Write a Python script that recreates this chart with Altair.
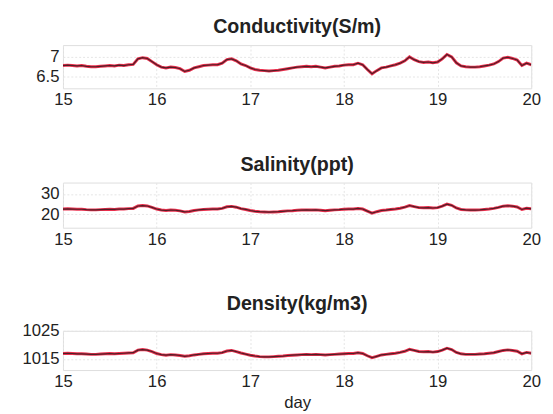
import altair as alt
import pandas as pd

days = [15.00, 15.05, 15.10, 15.15, 15.20, 15.25, 15.30, 15.35, 15.40, 15.45,
        15.50, 15.55, 15.60, 15.65, 15.70, 15.75, 15.80, 15.85, 15.90, 15.95,
        16.00, 16.05, 16.10, 16.15, 16.20, 16.25, 16.30, 16.35, 16.40, 16.45,
        16.50, 16.55, 16.60, 16.65, 16.70, 16.75, 16.80, 16.85, 16.90, 16.95,
        17.00, 17.05, 17.10, 17.15, 17.20, 17.25, 17.30, 17.35, 17.40, 17.45,
        17.50, 17.55, 17.60, 17.65, 17.70, 17.75, 17.80, 17.85, 17.90, 17.95,
        18.00, 18.05, 18.10, 18.15, 18.20, 18.25, 18.30, 18.35, 18.40, 18.45,
        18.50, 18.55, 18.60, 18.65, 18.70, 18.75, 18.80, 18.85, 18.90, 18.95,
        19.00, 19.05, 19.10, 19.15, 19.20, 19.25, 19.30, 19.35, 19.40, 19.45,
        19.50, 19.55, 19.60, 19.65, 19.70, 19.75, 19.80, 19.85, 19.90, 19.95,
        20.00]

conductivity = [6.78, 6.79, 6.78, 6.77, 6.78, 6.76, 6.75, 6.75, 6.76, 6.77,
                6.78, 6.77, 6.79, 6.78, 6.80, 6.81, 6.95, 6.98, 6.96, 6.88,
                6.80, 6.74, 6.72, 6.74, 6.73, 6.70, 6.63, 6.66, 6.72, 6.75,
                6.78, 6.79, 6.80, 6.80, 6.84, 6.93, 6.95, 6.90, 6.82, 6.78,
                6.72, 6.68, 6.66, 6.65, 6.64, 6.65, 6.66, 6.68, 6.70, 6.72,
                6.74, 6.75, 6.76, 6.75, 6.76, 6.74, 6.72, 6.74, 6.76, 6.77,
                6.79, 6.80, 6.80, 6.84, 6.80, 6.68, 6.57, 6.65, 6.72, 6.74,
                6.77, 6.80, 6.84, 6.90, 7.00, 6.93, 6.88, 6.86, 6.87, 6.85,
                6.87, 6.95, 7.06, 7.00, 6.85, 6.77, 6.75, 6.74, 6.74, 6.75,
                6.77, 6.79, 6.82, 6.88, 6.97, 6.99, 6.96, 6.92, 6.78, 6.84,
                6.80]

salinity = [22.6, 22.7, 22.6, 22.5, 22.5, 22.3, 22.2, 22.2, 22.3, 22.4,
            22.5, 22.4, 22.6, 22.6, 22.8, 22.9, 24.1, 24.3, 24.1, 23.4,
            22.6, 22.1, 21.9, 22.1, 22.0, 21.7, 21.2, 21.4, 21.9, 22.2,
            22.4, 22.5, 22.6, 22.6, 22.9, 23.7, 23.9, 23.5, 22.8, 22.4,
            21.9, 21.5, 21.3, 21.2, 21.1, 21.2, 21.3, 21.5, 21.7, 21.8,
            22.0, 22.1, 22.2, 22.1, 22.2, 22.0, 21.8, 22.0, 22.2, 22.3,
            22.5, 22.6, 22.6, 22.9, 22.6, 21.6, 20.6, 21.3, 21.9, 22.1,
            22.4, 22.6, 23.0, 23.5, 24.3, 23.8, 23.3, 23.2, 23.3, 23.1,
            23.3, 24.0, 25.0, 24.4, 23.1, 22.4, 22.2, 22.1, 22.1, 22.2,
            22.4, 22.6, 22.9, 23.4, 24.0, 24.2, 24.0, 23.6, 22.4, 23.0,
            22.7]

density = [1016.9, 1017.0, 1016.9, 1016.8, 1016.8, 1016.7, 1016.6, 1016.6, 1016.7, 1016.8,
           1016.9, 1016.8, 1016.9, 1017.0, 1017.1, 1017.2, 1018.1, 1018.3, 1018.1, 1017.6,
           1016.9, 1016.5, 1016.3, 1016.5, 1016.4, 1016.2, 1015.9, 1016.1, 1016.4, 1016.6,
           1016.8, 1016.9, 1017.0, 1017.0, 1017.2, 1017.8, 1018.0, 1017.6, 1017.1, 1016.7,
           1016.3, 1016.0, 1015.8, 1015.7, 1015.7, 1015.8, 1015.9, 1016.0, 1016.2, 1016.3,
           1016.4, 1016.5, 1016.6, 1016.5, 1016.6, 1016.5, 1016.4, 1016.5, 1016.6, 1016.7,
           1016.8, 1016.9, 1016.9, 1017.2, 1016.9, 1016.1, 1015.4, 1015.9, 1016.4, 1016.6,
           1016.8, 1017.0, 1017.3, 1017.7, 1018.4, 1018.0, 1017.6, 1017.5, 1017.6, 1017.4,
           1017.6, 1018.1, 1018.8, 1018.3, 1017.3, 1016.8, 1016.6, 1016.6, 1016.6, 1016.7,
           1016.8, 1017.0, 1017.2, 1017.6, 1018.0, 1018.2, 1018.0, 1017.7, 1016.8, 1017.3,
           1017.0]

x_ticks = [15, 16, 17, 18, 19, 20]

panels = [
    ("Conductivity(S/m)", conductivity, [6.2, 7.3], [6.5, 7], 44, None),
    ("Salinity(ppt)", salinity, [13.5, 35.5], [20, 30], 46, None),
    ("Density(kg/m3)", density, [1011, 1025], [1015, 1025], 40, "day"),
]

FONT = "Liberation Sans"


def make_panel(title, values, ydom, yticks, h, xtitle):
    df = pd.DataFrame({"day": days, "v": values})
    xkw = dict(values=x_ticks, format="d", labelFlush=False, tickSize=0, labelPadding=4,
               labelFontSize=17, labelColor="#222", grid=True, gridColor="#e4e4e4",
               gridDash=[2, 2], domain=False, labelFont=FONT)
    if xtitle:
        xenc = alt.X("day:Q", scale=alt.Scale(domain=[15, 20], nice=False),
                     axis=alt.Axis(title=xtitle, titleFontSize=17, titleFontWeight="normal",
                                   titleColor="#222", titleFont=FONT, titlePadding=5, **xkw))
    else:
        xenc = alt.X("day:Q", scale=alt.Scale(domain=[15, 20], nice=False),
                     axis=alt.Axis(title=None, **xkw))
    yenc = alt.Y("v:Q", scale=alt.Scale(domain=ydom, nice=False, zero=False),
                 axis=alt.Axis(title=None, values=yticks, labelExpr="'' + datum.value",
                               tickSize=0, labelPadding=4,
                               labelFontSize=17, labelColor="#222", labelFont=FONT,
                               grid=True, gridColor="#e4e4e4", gridDash=[2, 2],
                               domain=False))
    base = alt.Chart(df)
    red = base.mark_line(color="#e8183a", strokeWidth=3.0, opacity=0.9, clip=True).encode(x=xenc, y=yenc)
    black = base.mark_line(color="#1a1a1a", strokeWidth=1.2, opacity=0.75, clip=True).encode(x="day:Q", y="v:Q")
    return alt.layer(red, black).properties(
        width=477, height=h,
        title=alt.TitleParams(title, fontSize=20, fontWeight="bold", font=FONT,
                              color="#222", offset=8, anchor="middle"),
    )


charts = [make_panel(*p) for p in panels]

chart = alt.vconcat(*charts, spacing=46).properties(
    padding={"left": 13, "top": 5, "right": 4, "bottom": 2}
).configure_view(stroke="#9a9a9a", strokeWidth=1).configure(background="white")

chart.save("out.html", embed_options={"renderer": "svg", "actions": False})
